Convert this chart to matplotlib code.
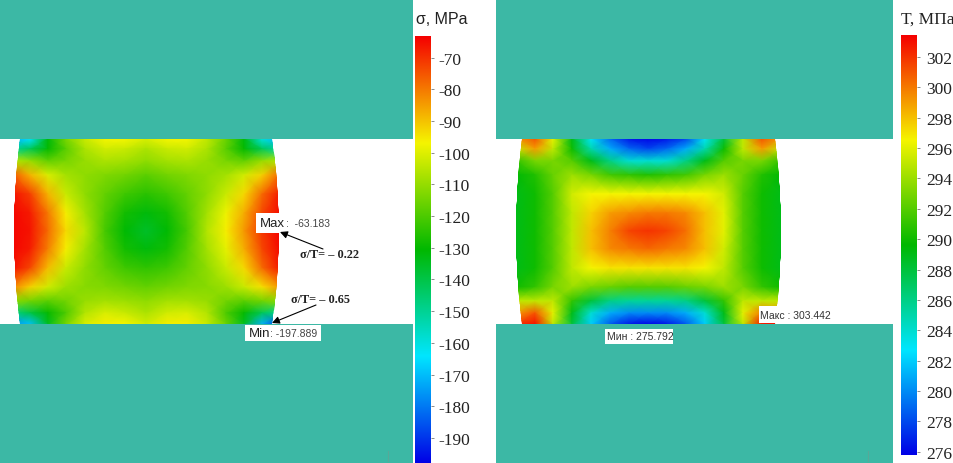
import numpy as np
import matplotlib
matplotlib.use("Agg")
import matplotlib.pyplot as plt
from matplotlib.colors import LinearSegmentedColormap
from matplotlib.patches import Rectangle, Polygon

W, H = 954, 464

row_y = [140, 150, 162, 176, 195, 214, 232, 250, 269, 288, 302, 314, 325]
sigma_x = [14, 30, 48, 66, 85, 105, 125, 146, 167, 187, 207, 226, 244, 262, 279]
temp_x = [516, 535, 553, 572, 591, 610, 629, 648, 667, 686, 705, 724, 743, 762, 781]

sigma = [
    [-172, -165, -132, -114, -103, -97, -97, -101, -97, -97, -104, -116, -132, -160, -172],
    [-150, -142, -130, -118, -107, -102, -103, -107, -103, -102, -107, -118, -130, -142, -152],
    [-106, -110, -117, -114, -110, -107, -108, -111, -108, -107, -110, -114, -117, -110, -106],
    [-76, -88, -101, -108, -111, -113, -115, -118, -115, -113, -111, -108, -102, -92, -78],
    [-66, -72, -88, -103, -111, -117, -122, -125, -122, -117, -111, -103, -93, -78, -67],
    [-64, -67, -80, -96, -108, -119, -128, -132, -128, -119, -108, -98, -87, -73, -65],
    [-64, -66, -78, -93, -105, -121, -131, -136, -131, -121, -106, -96, -84, -71, -64],
    [-64, -67, -81, -96, -108, -119, -128, -132, -128, -119, -108, -99, -87, -73, -65],
    [-66, -73, -89, -103, -111, -117, -122, -124, -122, -117, -111, -103, -93, -78, -67],
    [-82, -92, -102, -109, -112, -113, -115, -117, -115, -113, -112, -109, -103, -94, -84],
    [-112, -115, -118, -115, -110, -108, -109, -111, -108, -108, -110, -115, -118, -115, -112],
    [-148, -140, -130, -120, -106, -101, -103, -107, -102, -101, -106, -120, -130, -142, -150],
    [-176, -170, -135, -114, -101, -96, -97, -102, -96, -96, -103, -116, -135, -172, -190],
]

temp = [
    [299, 301, 296, 289, 283, 279, 276.5, 276, 276.5, 278, 283, 288, 295, 301, 299],
    [295, 299, 295, 290, 285, 281, 279, 278, 279, 281, 285, 290, 295, 299, 295],
    [291, 293, 293, 292, 289, 286, 284, 284, 284, 286, 289, 292, 293, 293, 291],
    [289.5, 290.5, 292.5, 294, 293, 291.5, 291, 290.5, 291, 291.5, 293, 294, 292.5, 290.5, 289.5],
    [289, 290, 292, 295.5, 296.5, 296.5, 296.5, 296.5, 296.5, 296.5, 296.5, 295.5, 292, 290, 289],
    [289, 290, 292, 295, 297.5, 299, 299.5, 300, 300, 299.5, 298, 296, 292, 290, 289],
    [289, 290, 292, 295, 298, 299.8, 301.5, 302, 301.5, 300.3, 298, 296, 292, 290, 289],
    [289, 290, 292, 295, 298, 299.5, 300, 300.5, 300, 299.5, 298, 295.5, 292, 290, 289],
    [289, 290, 292, 295, 296.5, 297, 297, 297, 297, 297, 296.5, 295, 292, 290, 289],
    [290, 291, 293, 294, 293, 292.5, 292, 292, 292, 292.5, 293, 294, 293, 291, 290],
    [295, 295, 295, 291, 288, 286, 285.5, 285.5, 285.5, 286, 288, 291, 295, 295, 295],
    [299, 301, 296, 289, 284, 281, 280, 280, 280, 281, 284, 289, 296, 300, 299],
    [302, 303, 295, 288, 282, 278.5, 276.5, 276, 276.5, 278.5, 282, 288, 295, 303, 303],
]

sigma_min, sigma_max = -197.889, -63.183
temp_min, temp_max = 275.792, 303.442
sigma_ticks = [-70, -80, -90, -100, -110, -120, -130, -140, -150, -160, -170, -180, -190]
temp_ticks = [276, 278, 280, 282, 284, 286, 288, 290, 292, 294, 296, 298, 300, 302]

plate_color = "#3cb8a5"
rainbow = LinearSegmentedColormap.from_list(
    "fem", ["#0000e6", "#00e6ff", "#00b800", "#f5f500", "#f50000"], N=512)

fig = plt.figure(figsize=(W / 100, H / 100), dpi=100)
ax = fig.add_axes([0, 0, 1, 1])
ax.set_xlim(0, W)
ax.set_ylim(H, 0)
ax.axis("off")


def barrel(x_top_l, x_mid_l, x_top_r, x_mid_r):
    # bulged side of the specimen, parabola between the plates
    ys = np.linspace(row_y[0], row_y[-1], 40)
    t = ((ys - 232.5) / 92.5) ** 2
    left = x_mid_l + (x_top_l - x_mid_l) * t
    right = x_mid_r + (x_top_r - x_mid_r) * t
    return np.r_[np.c_[left, ys], np.c_[right, ys][::-1]]


def field(xs, values, vmin, vmax, outline):
    mesh = ax.pcolormesh(xs, row_y, np.array(values, dtype=float), shading="gouraud",
                         cmap=rainbow, vmin=vmin, vmax=vmax, zorder=1)
    mesh.set_clip_path(Polygon(outline, closed=True, transform=ax.transData))


field(sigma_x, sigma, sigma_min, sigma_max, barrel(20, 14, 272, 279))
field(temp_x, temp, temp_min, temp_max, barrel(522, 516, 775, 781))

# plates
ax.add_patch(Rectangle((0, 0), 413, 140, fc=plate_color, ec="none", zorder=2))
ax.add_patch(Rectangle((0, 325), 413, 139, fc=plate_color, ec="none", zorder=2))
ax.add_patch(Rectangle((496, 0), 397, 140, fc=plate_color, ec="none", zorder=2))
ax.add_patch(Rectangle((496, 325), 397, 139, fc=plate_color, ec="none", zorder=2))
for x0 in [388, 868]:
    ax.plot([x0, x0], [452, 462], color="#58a898", lw=0.8, zorder=3)


def colorbar(left, top, bottom, vmin, vmax, ticks, pad):
    cax = fig.add_axes([left / W, 1 - bottom / H, 16 / W, (bottom - top) / H])
    cax.imshow(np.linspace(vmax, vmin, 512)[:, None], cmap=rainbow, vmin=vmin, vmax=vmax,
               aspect="auto", extent=[0, 1, vmin, vmax])
    cax.set_xticks([])
    cax.yaxis.tick_right()
    cax.set_yticks(ticks)
    cax.set_yticklabels([str(t) for t in ticks], family="Liberation Serif", fontsize=12.5,
                        color="#222222", va="center_baseline")
    cax.tick_params(axis="y", length=2, width=0.6, pad=pad, color="#777777")
    for s in cax.spines.values():
        s.set_visible(False)


colorbar(415, 37, 464, sigma_min, sigma_max, sigma_ticks, 3.5)
colorbar(901, 36, 456, temp_min, temp_max, temp_ticks, 4.5)

ax.text(416, 20, "σ, MPa", family="Liberation Sans", fontsize=11.5, va="center", color="#222222")
ax.text(901, 20, "Т, МПа", family="Liberation Serif", fontsize=12.5, va="center", color="#222222")

# value labels
ax.add_patch(Rectangle((245, 326), 76, 16, fc="white", ec="none", zorder=4))
ax.add_patch(Rectangle((605, 330), 68, 15, fc="white", ec="none", zorder=4))
ax.add_patch(Rectangle((759, 307), 72, 17, fc="white", ec="none", zorder=4))
ax.text(260, 224, "Max", family="Liberation Sans", fontsize=9.5, va="center", color="#222222",
        bbox=dict(fc="white", ec="none", pad=3), zorder=5)
ax.text(286, 224, ":  -63.183", family="Liberation Sans", fontsize=7.5, va="center",
        color="#444444", zorder=5)
ax.text(249, 334, "Min", family="Liberation Sans", fontsize=9.5, va="center", color="#222222",
        zorder=5)
ax.text(270, 334, ": -197.889", family="Liberation Sans", fontsize=7.5, va="center",
        color="#444444", zorder=5)
ax.text(607, 337, "Мин : 275.792", family="Liberation Sans", fontsize=7.5, va="center",
        color="#333333", zorder=5)
ax.text(760, 316, "Макс : 303.442", family="Liberation Sans", fontsize=7.5, va="center",
        color="#333333", zorder=5)

# arrows with ratios
ax.annotate("", xy=(280, 233), xytext=(323, 250), zorder=6,
            arrowprops=dict(arrowstyle="-|>", color="black", lw=0.8, mutation_scale=11,
                            shrinkA=0, shrinkB=0))
ax.annotate("", xy=(272, 324), xytext=(316, 306), zorder=6,
            arrowprops=dict(arrowstyle="-|>", color="black", lw=0.8, mutation_scale=11,
                            shrinkA=0, shrinkB=0))
ax.text(300, 255, "σ/T= – 0.22", family="Liberation Serif", fontweight="bold", fontsize=8.8,
        va="center", color="#222222", zorder=6)
ax.text(291, 300, "σ/T= – 0.65", family="Liberation Serif", fontweight="bold", fontsize=8.8,
        va="center", color="#222222", zorder=6)

fig.savefig("out.png", dpi=100)
